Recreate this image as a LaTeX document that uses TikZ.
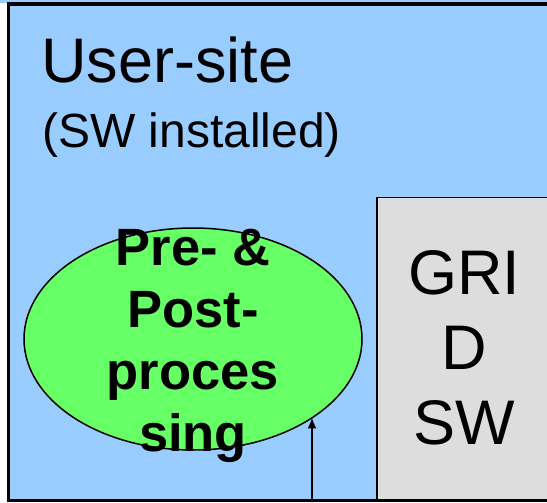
\documentclass[tikz,border=0pt]{standalone}
\usepackage{fontspec}
\setmainfont{Liberation Sans}
\usetikzlibrary{shapes.geometric, arrows.meta}
\definecolor{siteblue}{HTML}{99CCFF}
\definecolor{procgreen}{HTML}{66FF66}
\definecolor{gridgray}{HTML}{DDDDDD}

\begin{document}
\begin{tikzpicture}[x=1pt, y=-1pt,
    bigtext/.style={font=\fontsize{63}{75}\selectfont, inner sep=0pt},
    smalltext/.style={font=\fontsize{48}{55}\selectfont, inner sep=0pt},
    proctext/.style={font=\bfseries\fontsize{52.5}{62}\selectfont, align=center, inner sep=0pt},
    procbox/.style={ellipse, draw, line width=1.5pt, fill=procgreen, inner sep=0pt,
        minimum width=338pt, minimum height=222pt}]
\def\W{547}
\def\H{503}
\useasboundingbox (0,0) rectangle (\W,\H);
\clip (0,0) rectangle (\W,\H);

\fill[siteblue] (0,0) rectangle (\W,3);
\draw[line width=2.5pt, fill=siteblue] (8.5,4) rectangle (\W+20,500.5);
\draw[line width=3.5pt] (7.25,4) -- (\W,4);

\draw[line width=1.5pt, fill=gridgray] (377,197.5) rectangle (\W+20,500.5);
\draw[line width=2.5pt] (8.5,500.5) -- (\W,500.5);

\node[bigtext, anchor=base west] (site) at (41,83) {User-site};
\node[smalltext, anchor=base west] (sw) at (42,147) {(SW installed)};

\node[bigtext, align=center] (grid) at (464.5,347.5) {GRI\\D\\SW};

\node[procbox] (prepost) at (193,339) {};
\node[proctext] (prepostlabel) at (193,346) {Pre- \&\\Post-\\proces\\sing};

\coordinate (arrowfoot) at (312,500);
\draw[line width=1.8pt, -{Latex[length=11pt, width=9pt]}] (arrowfoot) -- (arrowfoot |- prepost.-33.4);
\end{tikzpicture}
\end{document}
